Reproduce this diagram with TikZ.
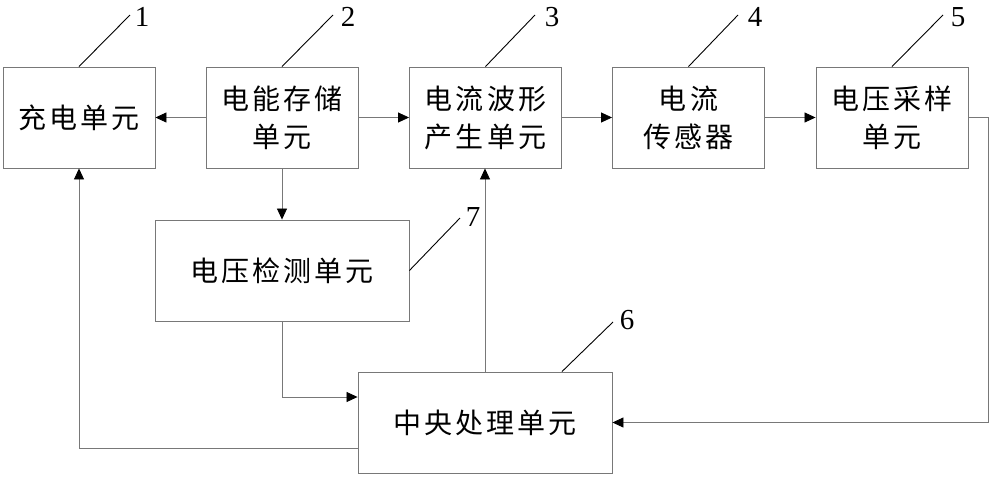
\documentclass[tikz,border=0pt]{standalone}
\usepackage{fontspec}
\usetikzlibrary{arrows.meta,calc}
\newfontfamily\cjk[LetterSpace=11]{Noto Sans CJK SC}
\newfontfamily\numf{Liberation Serif}
\definecolor{boxgray}{RGB}{120,120,120}
\begin{document}
\begin{tikzpicture}[x=1pt,y=-1pt,
  blk/.style={draw=boxgray,line width=0.9pt,minimum width=152pt,minimum height=101pt,inner sep=0pt,align=center,font=\cjk\fontsize{28}{38}\selectfont},
  wideblk/.style={blk,minimum width=254pt},
  conn/.style={draw=boxgray,line width=0.8pt},
  arr/.style={conn,-{Triangle[length=11pt,width=10pt,color=black]}},
  leader/.style={draw=black,line width=0.9pt},
  num/.style={font=\numf\fontsize{29}{29}\selectfont,inner sep=0pt}]
\useasboundingbox (0,0) rectangle (989,477);
\node[blk] (b1) at (79,117.5) {充电单元};
\node[blk] (b2) at (282,117.5) {电能存储\\单元};
\node[blk] (b3) at (485.5,117.5) {电流波形\\产生单元};
\node[blk] (b4) at (688.5,117.5) {电流\\传感器};
\node[blk] (b5) at (892,117.5) {电压采样\\单元};
\node[wideblk] (b7) at (282,270.5) {电压检测单元};
\node[wideblk] (b6) at (485,422.5) {中央处理单元};
% connectors
\draw[arr] (b2.west) -- (b1.east);
\draw[arr] (b2.east) -- (b3.west);
\draw[arr] (b3.east) -- (b4.west);
\draw[arr] (b4.east) -- (b5.west);
\coordinate (rc) at (988,0);
\draw[arr] (b5.east) -- (b5.east -| rc) |- (b6.east);
\draw[arr] (b2.south) -- (b7.north);
\draw[arr] (b7.south) |- ([yshift=25.5pt]b6.west);
\draw[arr] ([yshift=-25.5pt]b6.west) -| (b1.south);
\draw[arr] (b6.north) -- (b6.north |- b3.south);
% leaders
\coordinate (e1) at (130,15); \node[num] (n1) at (142,17) {1};
\coordinate (e2) at (333,15); \node[num] (n2) at (348,17) {2};
\coordinate (e3) at (535,15); \node[num] (n3) at (552,17) {3};
\coordinate (e4) at (738,15); \node[num] (n4) at (755,17) {4};
\coordinate (e5) at (943,15); \node[num] (n5) at (958,17) {5};
\coordinate (e7) at (460,218); \node[num] (n7) at (473,217) {7};
\coordinate (e6) at (613,322); \node[num] (n6) at (627,320) {6};
\draw[leader] (b1.north) -- (e1);
\draw[leader] (b2.north) -- (e2);
\draw[leader] (b3.north) -- (e3);
\draw[leader] (b4.north) -- (e4);
\draw[leader] (b5.north) -- (e5);
\draw[leader] (b7.east) -- (e7);
\draw[leader] ([xshift=77pt]b6.north) -- (e6);
\end{tikzpicture}
\end{document}
